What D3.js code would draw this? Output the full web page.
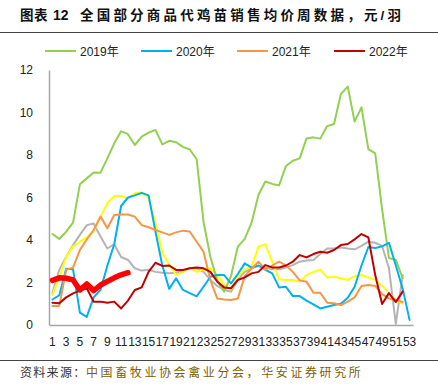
<!DOCTYPE html>
<html>
<head>
<meta charset="utf-8">
<script src="https://cdn.jsdelivr.net/npm/d3@7/dist/d3.min.js"></script>
<style>
  body { margin: 0; background: #fff; }
  text { font-family: "Liberation Sans", "Noto Sans CJK SC", sans-serif; }
</style>
</head>
<body>
<div id="chart-area"></div>
<script>
// weekly data, yuan per chick
var weeks = [1,2,3,4,5,6,7,8,9,10,11,12,13,14,15,16,17,18,19,20,21,22,23,24,25,26,
             27,28,29,30,31,32,33,34,35,36,37,38,39,40,41,42,43,44,45,46,47,48,49,50,51,52,53];

var grayLine = [1.5,2.6,3.2,3.76,4.24,4.7,4.78,4.16,3.6,3.8,3.2,3.06,2.67,2.56,2.6,2.5,2.46,2.43,2.46,2.56,
                2.67,2.67,2.5,2.12,1.84,1.65,1.57,2.12,2.5,2.67,2.78,2.71,2.62,2.62,2.71,2.82,2.98,3.03,
                3.06,3.34,3.6,3.6,3.65,3.6,3.56,3.72,3.92,3.87,3.72,2.67,0.05,2.35,null];
var yellowLine = [1.41,2.27,3.2,3.69,3.92,4.12,4.4,5.1,5.73,6.07,6.07,5.96,6.2,6.23,5.96,4.8,3.4,2.85,2.35,2.5,
                  2.7,2.5,2.6,2.67,2.35,1.9,1.68,2.3,2.6,2.75,3.69,3.8,2.98,2.15,2.12,2.12,2.04,2.35,2.5,
                  2.6,2.24,2.27,2.2,2.12,2.3,2.35,2.24,2.12,1.84,1.49,1.18,1.0,null];
var y2019 = [4.28,4.05,4.39,4.82,6.62,6.9,7.18,7.17,7.84,8.55,9.12,8.98,8.47,8.86,9.05,9.18,8.5,8.67,8.6,8.38,
             8.26,7.8,4.85,3.2,2.1,1.57,2.3,3.69,4.05,4.82,6.12,6.75,6.64,6.57,7.48,7.73,7.84,8.78,8.83,8.77,
             9.36,9.46,10.87,11.22,9.57,10.24,8.28,8.08,5.45,3.15,3.06,2.2,null];
var y2020 = [1.2,1.4,2.65,2.62,0.58,0.38,1.3,1.65,2.8,3.8,5.6,6.0,6.1,6.22,6.1,4.4,2.8,1.7,2.2,1.65,1.5,1.35,
             1.8,2.27,2.35,2.35,1.96,2.4,2.9,2.7,2.8,2.6,2.43,1.77,1.8,1.36,1.36,1.15,0.97,0.78,0.86,0.94,
             1.0,1.28,1.8,2.8,3.67,3.62,3.7,3.87,2.8,1.7,0.24];
var y2021 = [0.9,0.9,2.6,2.7,3.53,4.03,4.47,5.1,4.55,5.18,5.2,5.2,5.1,4.7,4.6,4.47,4.36,4.24,4.36,4.44,4.4,
             3.92,3.45,2.1,1.25,1.2,1.18,1.25,2.3,2.65,2.98,2.6,2.8,2.98,2.8,2.5,2.1,2.04,1.52,1.52,1.05,
             1.02,0.94,1.1,1.3,1.84,1.88,1.84,1.45,1.25,1.18,1.08,null];
var y2022 = [1.05,1.02,1.3,1.49,1.62,1.73,1.1,1.1,1.05,1.1,0.78,1.15,1.65,1.77,2.5,2.93,2.78,2.8,2.59,2.59,
             2.67,2.71,2.67,2.5,2.04,1.77,1.73,2.12,2.24,2.43,2.5,2.82,2.71,2.71,2.8,2.98,3.29,3.18,3.34,
             3.45,3.4,3.53,3.76,3.81,4.03,4.28,4.12,2.35,0.99,1.5,1.08,1.57,null];
var redThick = [2.1,2.22,2.2,2.12,1.65,1.93,1.62,1.88,2.05,2.22,2.36,2.46];

var yTicks = [0,2,4,6,8,10,12];

var svg = d3.select("#chart-area")
    .append("svg")
    .attr("width", 438)
    .attr("height", 387);

// title
var title = svg.append("text")
    .attr("y", 20)
    .attr("font-size", "13.5px")
    .attr("font-weight", "bold")
    .attr("fill", "#111");
title.append("tspan").attr("x", 20).attr("letter-spacing", "0.5px").text("图表");
title.append("tspan").attr("x", 53).attr("font-size", "14px").text("12");
title.append("tspan").attr("x", 80).attr("letter-spacing", "3.2px").text("全国部分商品代鸡苗销售均价周数据，元/羽");

svg.append("line")
    .attr("x1", 0).attr("x2", 438)
    .attr("y1", 32.5).attr("y2", 32.5)
    .attr("stroke", "#444")
    .attr("stroke-width", 1.2);

// scales
var x = d3.scaleBand().domain(weeks).range([49, 413]);
var y = d3.scaleLinear().domain([0, 12]).range([325, 70]);
var cx = function(i){ return x(weeks[i]) + x.bandwidth() / 2; };

// axes
var yAxis = svg.append("g")
    .attr("transform", "translate(49,0)")
    .call(d3.axisLeft(y).tickValues(yTicks).tickSize(0).tickPadding(16).tickFormat(d3.format("d")));
yAxis.select(".domain").attr("stroke", "#a6a6a6").attr("stroke-width", 1.5);
yAxis.selectAll("text").attr("font-size", "12px").attr("fill", "#222")
    .attr("font-family", "Liberation Sans, sans-serif");

var xAxis = svg.append("g")
    .attr("transform", "translate(0,325)")
    .call(d3.axisBottom(x)
        .tickValues(weeks.filter(function(d){ return d % 2 === 1; }))
        .tickSize(0).tickSizeOuter(0).tickPadding(12));
xAxis.select(".domain").attr("stroke", "#a6a6a6").attr("stroke-width", 1.5);
xAxis.selectAll("text").attr("font-size", "12px").attr("fill", "#222")
    .attr("font-family", "Liberation Sans, sans-serif");

// lines
var series = [
    { values: grayLine,   color: "#b4b4b4", width: 2 },
    { values: yellowLine, color: "#ffff00", width: 2 },
    { values: y2019,      color: "#92d050", width: 2 },
    { values: y2020,      color: "#00b0f0", width: 2 },
    { values: y2021,      color: "#f79646", width: 2 },
    { values: y2022,      color: "#c00000", width: 2 },
    { values: redThick,   color: "#ff0000", width: 5.5 }
];

var line = d3.line()
    .defined(function(d){ return d != null; })
    .x(function(d, i){ return cx(i); })
    .y(function(d){ return y(d); });

series.forEach(function(s){
    svg.append("path")
        .attr("fill", "none")
        .attr("stroke", s.color)
        .attr("stroke-width", s.width)
        .attr("stroke-linejoin", "round")
        .attr("stroke-linecap", "round")
        .attr("d", line(s.values));
});

// legend
var legendItems = [
    { label: "2019年", color: "#92d050", x: 45 },
    { label: "2020年", color: "#00b0f0", x: 141 },
    { label: "2021年", color: "#f79646", x: 237 },
    { label: "2022年", color: "#c00000", x: 334 }
];
var legend = svg.append("g");
legendItems.forEach(function(d){
    legend.append("line")
        .attr("x1", d.x).attr("x2", d.x + 31)
        .attr("y1", 51).attr("y2", 51)
        .attr("stroke", d.color)
        .attr("stroke-width", 2);
    legend.append("text")
        .attr("x", d.x + 35)
        .attr("y", 55.5)
        .attr("font-size", "12px")
        .attr("fill", "#222")
        .text(d.label);
});

// source
svg.append("line")
    .attr("x1", 0).attr("x2", 438)
    .attr("y1", 360.5).attr("y2", 360.5)
    .attr("stroke", "#444")
    .attr("stroke-width", 1);

var src = svg.append("text")
    .attr("y", 377)
    .attr("font-size", "12px")
    .attr("font-family", "Noto Sans CJK SC, sans-serif");
src.append("tspan").attr("x", 20).attr("fill", "#333").attr("letter-spacing", "1.3px").text("资料来源：");
src.append("tspan").attr("x", 86).attr("fill", "#7f6000").attr("letter-spacing", "2.6px").text("中国畜牧业协会禽业分会，华安证券研究所");
</script>
</body>
</html>
